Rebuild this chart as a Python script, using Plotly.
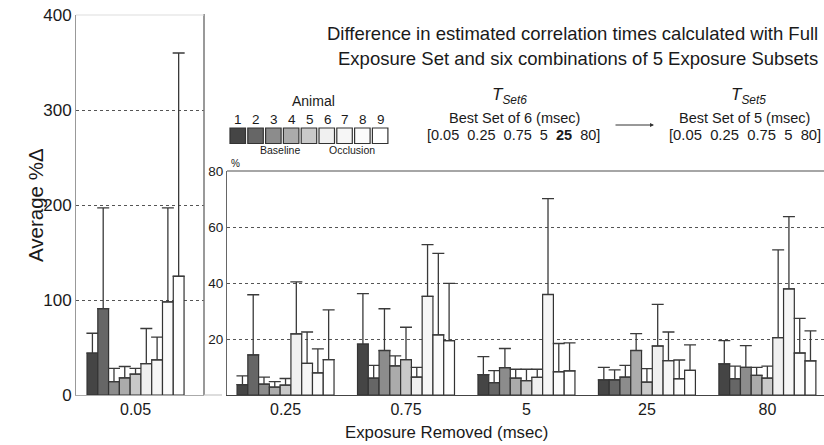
import plotly.graph_objects as go

W, H = 824, 445
FONT = "Liberation Sans, Arial, sans-serif"

animals = ["1", "2", "3", "4", "5", "6", "7", "8", "9"]
colors = ["#454545", "#666666", "#8c8c8c", "#ababab", "#c9c9c9",
          "#f0f0f0", "#f6f6f6", "#fbfbfb", "#ffffff"]

left_cat = ["0.05"]
left_vals = [44, 91, 14, 18, 22, 33, 37, 98, 125]
left_top = [65, 197, 28, 30, 28, 70, 61, 197, 360]

right_cats = ["0.25", "0.75", "5", "25", "80"]
# rows = animals, columns = exposure removed
right_vals = [
    [3.7, 18.2, 7.3, 5.4, 11.1],
    [14.3, 6.0, 4.4, 5.4, 5.8],
    [3.9, 15.9, 9.8, 6.4, 9.9],
    [2.8, 10.4, 6.0, 15.9, 7.0],
    [3.5, 12.6, 5.1, 4.6, 6.0],
    [21.8, 6.4, 6.3, 17.5, 20.5],
    [11.3, 35.2, 35.9, 12.3, 37.9],
    [7.9, 21.5, 8.3, 5.8, 15.0],
    [12.6, 19.4, 8.6, 8.8, 12.2],
]
right_top = [
    [6.8, 36.2, 13.7, 9.9, 19.4],
    [35.8, 10.6, 8.7, 9.0, 10.3],
    [6.4, 30.8, 16.6, 10.6, 17.6],
    [4.8, 14.0, 9.2, 21.9, 9.9],
    [5.9, 24.2, 9.2, 9.4, 10.3],
    [40.4, 9.9, 9.2, 32.4, 51.8],
    [22.5, 53.7, 70.1, 22.5, 63.7],
    [16.5, 50.6, 18.4, 12.5, 27.4],
    [30.4, 39.9, 18.6, 17.9, 22.9],
]

def px(x):
    return x / W

def py(y):
    return 1 - y / H

fig = go.Figure()
err_style = dict(type="data", symmetric=False, color="#3a3a3a", thickness=1.3, width=6)

for i, a in enumerate(animals):
    fig.add_trace(go.Bar(
        x=left_cat, y=[left_vals[i]], name=a, showlegend=False,
        marker=dict(color=colors[i], line=dict(color="#333333", width=1.2)),
        error_y=dict(array=[left_top[i] - left_vals[i]], arrayminus=[0], **err_style),
        xaxis="x", yaxis="y"))
for i, a in enumerate(animals):
    fig.add_trace(go.Bar(
        x=right_cats, y=right_vals[i], name=a, showlegend=False,
        marker=dict(color=colors[i], line=dict(color="#333333", width=1.2)),
        error_y=dict(array=[t - v for t, v in zip(right_top[i], right_vals[i])],
                     arrayminus=[0] * len(right_cats), **err_style),
        xaxis="x2", yaxis="y2"))

ybot = py(395)
fig.update_layout(
    template="none",
    width=W, height=H, margin=dict(l=0, r=0, t=0, b=0, pad=0, autoexpand=False),
    paper_bgcolor="white", plot_bgcolor="white",
    barmode="group", bargap=0.195, bargroupgap=0,
    font=dict(family=FONT, color="#1a1a1a"),
    xaxis=dict(domain=[px(76), px(204)], range=[-0.494, 0.568], type="category",
               showline=True, linecolor="#aaaaaa", linewidth=1, showgrid=False,
               ticks="", tickfont=dict(size=16), anchor="y", automargin=False),
    yaxis=dict(domain=[ybot, py(15)], range=[0, 400], tickvals=[0, 100, 200, 300, 400],
               showline=True, linecolor="#999999", linewidth=1,
               showgrid=True, gridcolor="#555555", griddash="dot", gridwidth=1,
               zeroline=False, ticks="", tickfont=dict(size=17), anchor="x",
               automargin=False),
    xaxis2=dict(domain=[px(227), 1.0], range=[-0.486, 4.47], type="category",
                showline=True, linecolor="#444444", linewidth=1.2, showgrid=False,
                ticks="", tickfont=dict(size=16), anchor="y2", automargin=False),
    yaxis2=dict(domain=[ybot, py(171)], range=[0, 80], tickvals=[20, 40, 60, 80],
                showline=True, linecolor="#666666", linewidth=1.2,
                showgrid=True, gridcolor="#555555", griddash="dot", gridwidth=1,
                zeroline=False, ticks="", tickfont=dict(size=13.5), anchor="x2",
                automargin=False),
)

shapes = [
    # right border of the left panel
    dict(type="line", xref="paper", yref="paper", x0=px(204), x1=px(204),
         y0=py(14), y1=ybot, line=dict(color="#777777", width=1.5)),
    # faint top line of the left panel
    dict(type="line", xref="paper", yref="paper", x0=px(76), x1=px(204),
         y0=py(15), y1=py(15), line=dict(color="#dddddd", width=1)),
    # top border of the right panel
    dict(type="line", xref="paper", yref="paper", x0=px(227), x1=1,
         y0=py(171), y1=py(171), line=dict(color="#888888", width=1.5)),
    # left bottom line extension
    dict(type="line", xref="paper", yref="paper", x0=px(204), x1=px(222),
         y0=ybot, y1=ybot, line=dict(color="#bbbbbb", width=1)),
]
# legend swatches
for i, c in enumerate(colors):
    x0 = 230 + i * 17.8
    shapes.append(dict(type="rect", xref="paper", yref="paper",
                       x0=px(x0), x1=px(x0 + 15.5), y0=py(143.5), y1=py(128),
                       fillcolor=c, line=dict(color="#333333", width=1.2)))
fig.update_layout(shapes=shapes)

ann = []
def txt(x, y, s, size, xanchor="center", color="#1a1a1a", angle=0):
    ann.append(dict(xref="paper", yref="paper", x=px(x), y=py(y), text=s,
                    showarrow=False, xanchor=xanchor, yanchor="middle",
                    font=dict(size=size, color=color, family=FONT), textangle=angle))

txt(820, 33, "Difference in estimated correlation times calculated with Full", 18.5, "right")
txt(820, 58, "Exposure Set and six combinations of 5 Exposure Subsets", 18.5, "right")
txt(35, 205, "Average %Δ", 20.5, angle=-90)
txt(446, 432, "Exposure Removed (msec)", 16.8)
txt(229, 164, "%", 10, "left")
txt(313, 101, "Animal", 14)
for i, a in enumerate(animals):
    txt(238 + i * 17.9, 119, a, 13.5)
txt(280, 150, "Baseline", 10.5)
txt(352, 150, "Occlusion", 10.5)

txt(509, 96, "<i>T</i><sub><i>Set6</i></sub>", 17)
txt(514, 118, "Best Set of 6 (msec)", 14.5)
txt(513, 135, "[0.05  0.25  0.75  5  <b>25</b>  80]", 14.5)
txt(748, 96, "<i>T</i><sub><i>Set5</i></sub>", 17)
txt(744, 118, "Best Set of 5 (msec)", 14.5)
txt(745, 135, "[0.05  0.25  0.75  5  80]", 14.8)

ann.append(dict(xref="paper", yref="paper", x=px(654), y=py(125), ax=-41, ay=0,
                text=" ", showarrow=True, arrowhead=2, arrowsize=0.8, arrowwidth=1,
                arrowcolor="#333333", font=dict(size=8)))
fig.update_layout(annotations=ann)

fig.write_html("out.html")
